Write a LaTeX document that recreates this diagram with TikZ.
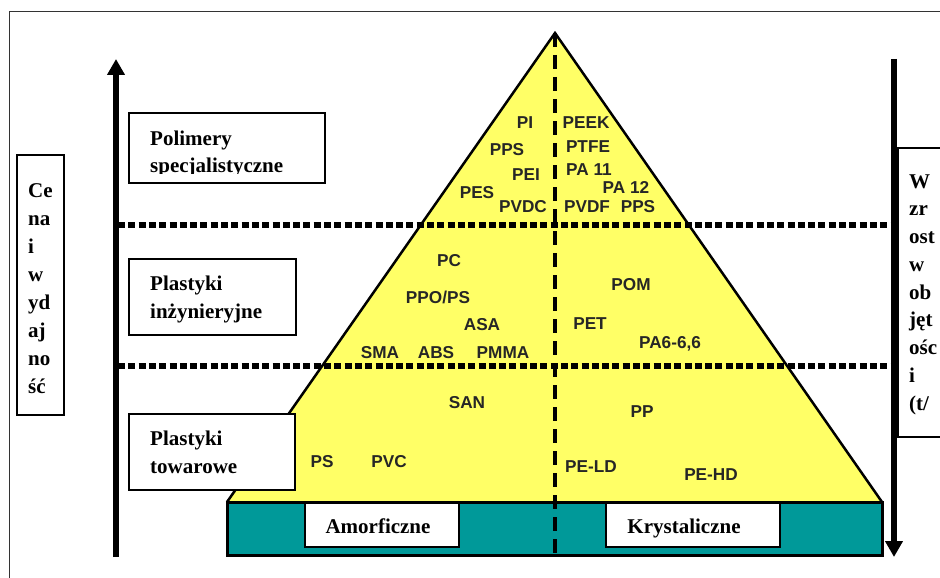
\documentclass[tikz,border=0pt]{standalone}
\usepackage{fontspec}
\setmainfont{Liberation Serif}
\newfontfamily\polyfont{Liberation Sans}
\usetikzlibrary{arrows.meta}
\definecolor{pyryellow}{RGB}{255,255,102}
\definecolor{baseteal}{RGB}{0,153,153}
\begin{document}
\begin{tikzpicture}[x=1pt,y=-1pt,
  poly/.style={font=\polyfont\bfseries\fontsize{17.2}{17}\selectfont, text=black!85, inner sep=0pt},
  tag/.style={font=\bfseries\fontsize{21}{28}\selectfont, inner sep=0pt, anchor=base west},
  boxframe/.style={draw=black, line width=1.5pt, fill=white, rectangle, inner sep=0pt},
  level/.style={line width=6pt, dash pattern=on 7pt off 3.3pt},
  axis/.style={line width=6pt, -{Triangle[length=16pt,width=17pt]}}]
\useasboundingbox (0,0) rectangle (940,578);
% outer frame
\draw[line width=1pt, black!80] (9,620) rectangle (980,12);

% pyramid body
\coordinate (apex) at (555,33);
\coordinate (bl) at (227,502);
\coordinate (br) at (882,502);
\fill[pyryellow] (apex) -- (bl) -- (br) -- cycle;

% level separators
\coordinate (l1a) at (118,225); \coordinate (l1b) at (892,225);
\coordinate (l2a) at (118,366); \coordinate (l2b) at (892,366);
\draw[level] (l1a) -- (l1b);
\draw[level] (l2a) -- (l2b);

% pyramid outline
\draw[line width=2.5pt, line join=miter] (bl) -- (apex) -- (br);

% base bar
\draw[line width=3pt, fill=baseteal] (227,502) rectangle (882,555);

% split between amorphous and crystalline
\coordinate (splitBot) at (555,555);
\draw[line width=4pt, dash pattern=on 14pt off 8pt] (apex) -- (splitBot);

% axes
\coordinate (upS) at (116,557); \coordinate (upT) at (116,59);
\coordinate (dnS) at (894,59);  \coordinate (dnT) at (894,557);
\draw[axis] (upS) -- (upT);
\draw[axis] (dnS) -- (dnT);

% boxes
\node[boxframe, minimum width=196pt, minimum height=70pt] (specbox) at (227,148) {};
\node[boxframe, minimum width=167pt, minimum height=76pt] (engbox) at (212.5,297) {};
\node[boxframe, minimum width=166pt, minimum height=76pt] (combox) at (212,452) {};
\node[boxframe, minimum width=47pt, minimum height=260pt] (costbox) at (40.5,285) {};
\node[boxframe, minimum width=72pt, minimum height=289pt] (volbox) at (934,292.5) {};
\node[boxframe, minimum width=154pt, minimum height=44pt] (amorbox) at (382,525) {};
\node[boxframe, minimum width=174pt, minimum height=44pt] (crysbox) at (693,525) {};

% box texts
\begin{scope}
  \clip (129,113) rectangle (325,173.5);
  \node[tag] (specA) at (150,145) {Polimery};
  \node[tag] (specB) at (150,172) {specjalistyczne};
\end{scope}
\node[tag] (engA) at (150,290) {Plastyki};
\node[tag] (engB) at (150,318) {inżynieryjne};
\node[tag] (comA) at (150,445) {Plastyki};
\node[tag] (comB) at (150,473) {towarowe};
\node[tag, anchor=base] (amor) at (378,533) {Amorficzne};
\node[tag, anchor=base] (crys) at (684,533) {Krystaliczne};

\node[tag] (c1) at (28,197) {Ce};
\node[tag] (c2) at (28,225) {na};
\node[tag] (c3) at (28,253) {i};
\node[tag] (c4) at (28,281) {w};
\node[tag] (c5) at (28,309) {yd};
\node[tag] (c6) at (28,337) {aj};
\node[tag] (c7) at (28,365) {no};
\node[tag] (c8) at (28,393) {ść};

\node[tag] (v1) at (909,188) {W};
\node[tag] (v2) at (909,215.75) {zr};
\node[tag] (v3) at (909,243.5) {ost};
\node[tag] (v4) at (909,271.25) {w};
\node[tag] (v5) at (909,299) {ob};
\node[tag] (v6) at (909,326.75) {jęt};
\node[tag] (v7) at (909,354.5) {ośc};
\node[tag] (v8) at (909,382.25) {i};
\node[tag] (v9) at (909,410) {(t/};

% polymers
\node[poly] (pi)   at (525,123) {PI};
\node[poly] (peek) at (586,123) {PEEK};
\node[poly] (ppsA) at (507,150) {PPS};
\node[poly] (ptfe) at (588,147) {PTFE};
\node[poly] (pei)  at (526,175) {PEI};
\node[poly] (pa11) at (589,170) {PA 11};
\node[poly] (pes)  at (477,193) {PES};
\node[poly] (pa12) at (626,187) {PA 12};
\node[poly] (pvdc) at (523,207) {PVDC};
\node[poly] (pvdf) at (587,207) {PVDF};
\node[poly] (ppsB) at (638,207) {PPS};
\node[poly] (pc)   at (449,261) {PC};
\node[poly] (ppo)  at (438,297) {PPO/PS};
\node[poly] (asa)  at (482,325) {ASA};
\node[poly] (sma)  at (380,353) {SMA};
\node[poly] (abs)  at (436,353) {ABS};
\node[poly] (pmma) at (503,353) {PMMA};
\node[poly] (pom)  at (631,285) {POM};
\node[poly] (pet)  at (590,324) {PET};
\node[poly, anchor=base] (pa66) at (670,348) {PA6-6,6};
\node[poly] (san)  at (467,403) {SAN};
\node[poly] (pp)   at (642,412) {PP};
\node[poly] (ps)   at (322,462) {PS};
\node[poly] (pvc)  at (389,462) {PVC};
\node[poly] (pel)  at (591,467) {PE-LD};
\node[poly] (peh)  at (711,475) {PE-HD};
\end{tikzpicture}
\end{document}
